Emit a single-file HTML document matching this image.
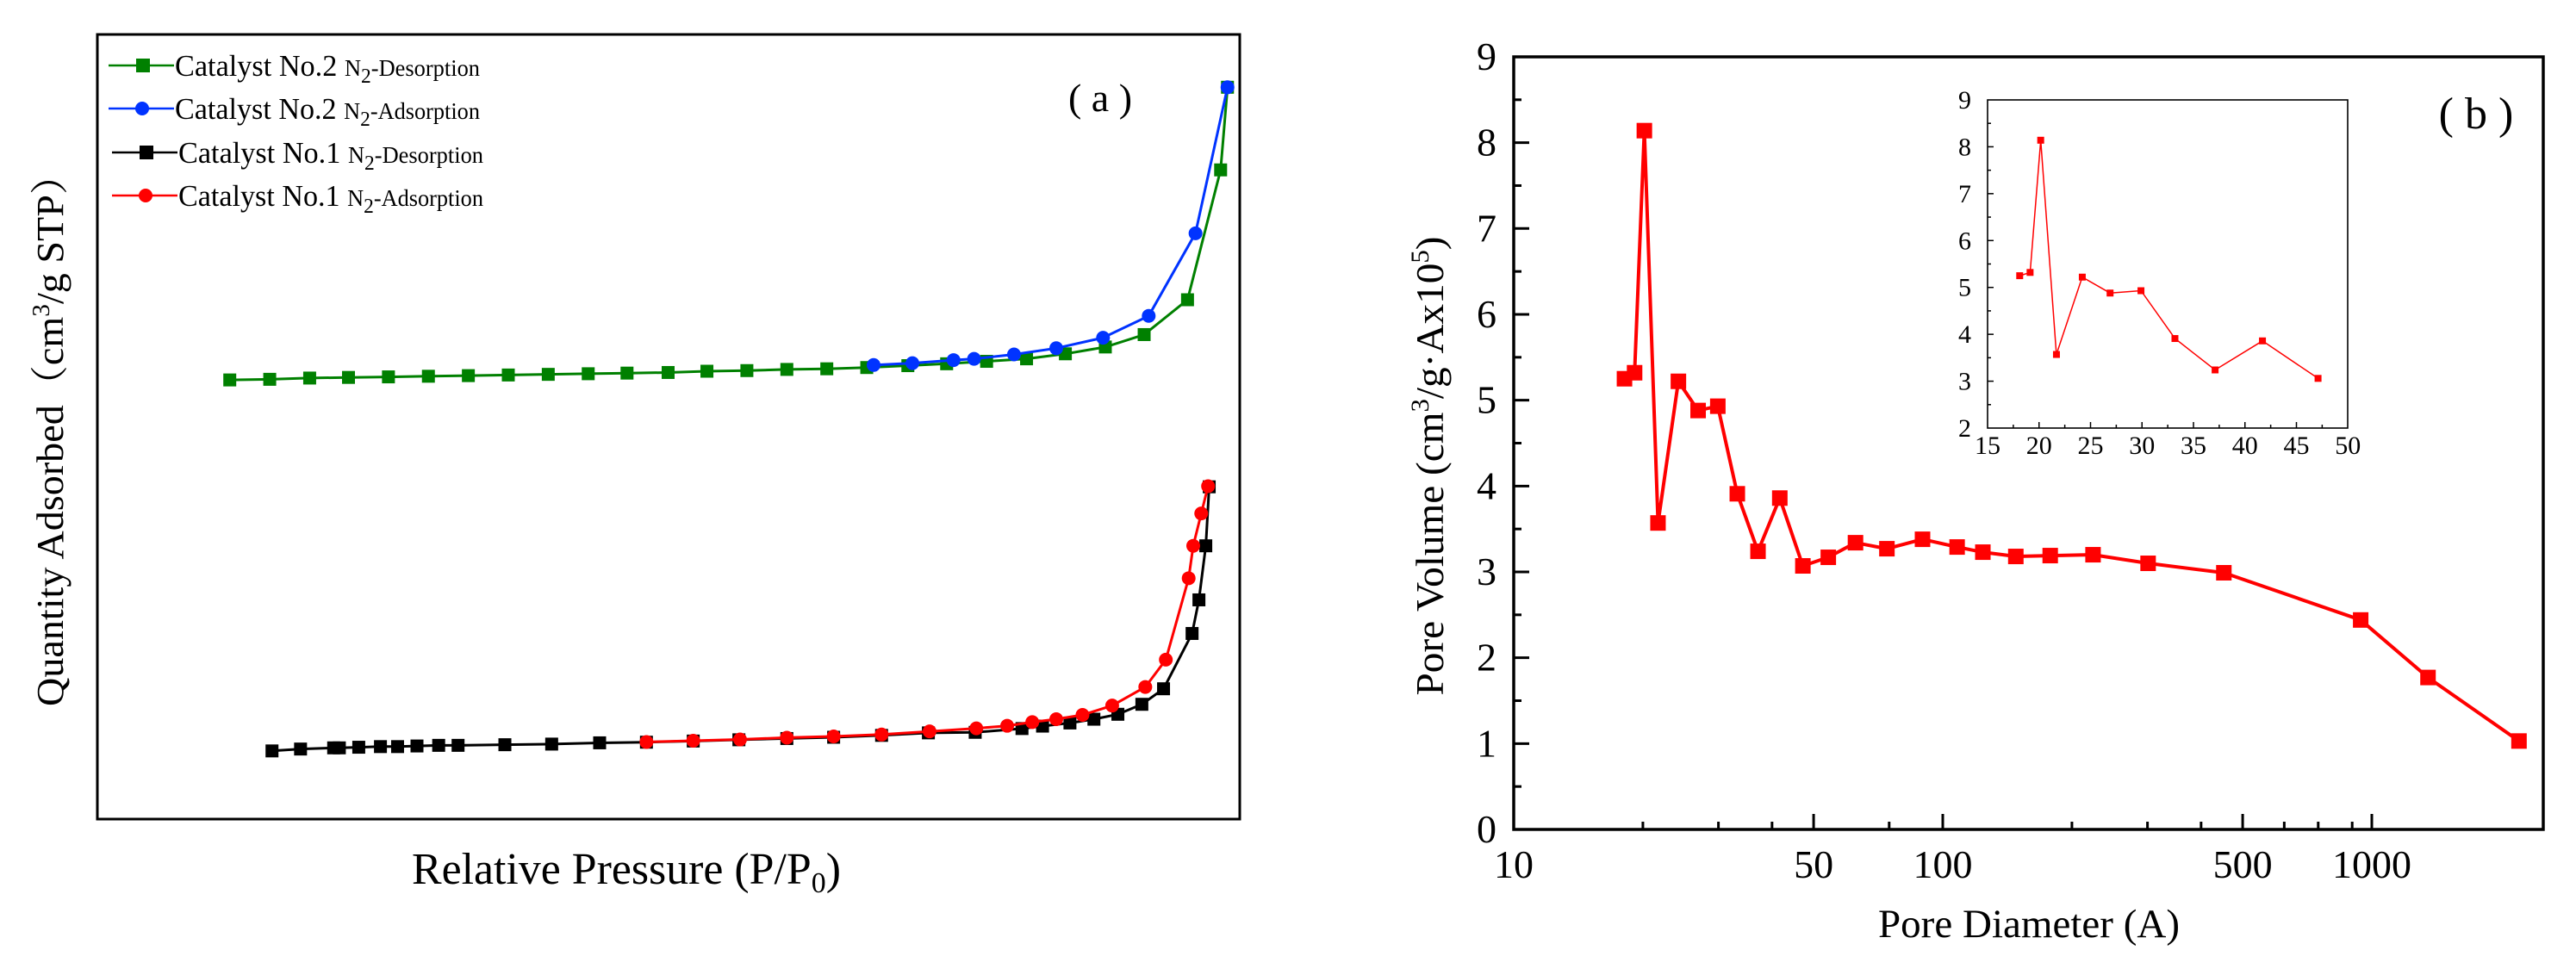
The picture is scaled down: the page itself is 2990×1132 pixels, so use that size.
<!DOCTYPE html>
<html>
<head>
<meta charset="utf-8">
<style>
html,body{margin:0;padding:0;background:#fff;}
svg{display:block;}
svg text{font-family:"Liberation Serif","DejaVu Serif","Noto Serif CJK SC",serif !important;fill:#000;}
</style>
</head>
<body>
<svg id="fig" width="2990" height="1132" viewBox="0 0 2990 1132" xmlns="http://www.w3.org/2000/svg" font-family="Liberation Serif, DejaVu Serif, serif">
  <rect x="0" y="0" width="2990" height="1132" fill="#fff"/>
  <g id="panelA">
    <rect x="113" y="40" width="1326" height="911" fill="none" stroke="#000" stroke-width="3"/>
    <text x="58" y="500" font-size="44" text-anchor="middle" textLength="640" lengthAdjust="spacingAndGlyphs" transform="rotate(-90 58 500)" dy="15">Quantity Adsorbed（cm<tspan font-size="28" dy="-16">3</tspan><tspan dy="16">/g STP）</tspan></text>
    <text x="727" y="1026" font-size="52" text-anchor="middle" textLength="498" lengthAdjust="spacingAndGlyphs">Relative Pressure (P/P<tspan font-size="34" dy="10">0</tspan><tspan dy="-10">)</tspan></text>
    <text x="1277" y="129" font-size="46" text-anchor="middle">( a )</text>
    <g id="legendA"></g>
    <g id="seriesA"></g>
  </g>
  <g id="panelB">
    <g id="axesB"></g>
    <text x="1660" y="541" font-size="46" text-anchor="middle" textLength="533" lengthAdjust="spacingAndGlyphs" transform="rotate(-90 1660 541)" dy="15">Pore Volume (cm<tspan font-size="30" dy="-17">3</tspan><tspan dy="17">/g·Ax10</tspan><tspan font-size="30" dy="-17">5</tspan><tspan dy="17">)</tspan></text>
    <text x="2355" y="1088" font-size="47" text-anchor="middle" textLength="350" lengthAdjust="spacingAndGlyphs">Pore Diameter (A)</text>
    <text x="2874" y="149" font-size="52" text-anchor="middle">( b )</text>
    <g id="seriesB"></g>
    <g id="inset"></g>
  </g>
</svg>
<script>
// ---------- Panel (a) data ----------
const no2DesP = [0.116,0.151,0.186,0.220,0.255,0.290,0.325,0.360,0.395,0.430,0.464,0.500,0.534,0.569,0.604,0.639,0.674,0.710,0.744,0.779,0.814,0.848,0.883,0.917,0.955,0.984,0.990];
const no2DesQ = [559.7,560.5,562.1,562.9,563.6,564.4,565.2,566.0,566.8,567.6,568.4,569.2,570.8,571.6,573.1,573.9,575.5,577.9,580.3,583.4,586.6,593.0,601.7,617.5,661.9,827.4,932.7];
const no2AdsP = [0.680,0.714,0.750,0.768,0.803,0.840,0.881,0.921,0.962,0.990];
const no2AdsQ = [578.7,581.1,585.0,586.6,592.2,600.1,613.5,641.3,746.6,932.7];
const no1DesP = [0.153,0.178,0.207,0.212,0.229,0.248,0.263,0.280,0.299,0.316,0.357,0.398,0.440,0.481,0.522,0.562,0.604,0.645,0.687,0.728,0.769,0.810,0.828,0.852,0.873,0.894,0.915,0.934,0.959,0.965,0.971,0.974];
const no1DesQ = [86.9,89.3,90.8,90.8,91.6,92.4,92.4,93.2,94.0,94.0,94.8,95.6,97.2,98.0,99.5,101.1,102.7,104.3,106.7,109.9,110.6,115.4,118.5,122.5,127.3,133.6,146.3,166.1,236.6,279.4,348.3,423.5];
const no1AdsP = [0.481,0.522,0.563,0.604,0.645,0.687,0.729,0.770,0.797,0.819,0.840,0.863,0.889,0.918,0.936,0.956,0.960,0.967,0.973];
const no1AdsQ = [98.3,99.9,101.5,103.8,105.4,107.8,111.8,115.7,118.9,123.6,127.3,132.8,144.7,168.4,203.2,307.0,348.3,389.5,424.3];
const legendLabels = ["Catalyst No.2 ","Catalyst No.2 ","Catalyst No.1 ","Catalyst No.1 "];
const legendSuffix = ["-Desorption","-Adsorption","-Desorption","-Adsorption"];

// ---------- Panel (b) data ----------
const poreDiameter = [18.12,19.13,20.16,21.69,24.2,26.9,29.9,33.2,37.1,41.7,47.2,54.1,62.6,74.1,89.7,108,124,148,178,224,301,452,942,1352,2203];
const poreVolume   = [5.25,5.32,8.14,3.57,5.22,4.88,4.93,3.91,3.24,3.86,3.07,3.17,3.34,3.27,3.38,3.29,3.23,3.18,3.19,3.20,3.10,2.99,2.44,1.77,1.03];
const xMajorTicks = [10,50,100,500,1000];
const xMinorTicks = [20,30,40,75,200,300,400,625,750,900];
const yTicks = [0,1,2,3,4,5,6,7,8,9];
const insetDiameter = [18.12,19.13,20.16,21.69,24.2,26.9,29.9,33.2,37.1,41.7,47.1];
const insetVolume   = [5.25,5.32,8.14,3.57,5.22,4.88,4.93,3.91,3.24,3.86,3.06];
const insetXTicks = [15,20,25,30,35,40,45,50];
const insetYTicks = [2,3,4,5,6,7,8,9];

const NS = "http://www.w3.org/2000/svg";
const FONT = "Liberation Serif, DejaVu Serif, serif";
function mk(tag, attrs, parent){
  const e = document.createElementNS(NS, tag);
  for (const k in attrs) e.setAttribute(k, attrs[k]);
  if (tag === 'text') e.setAttribute('font-family', FONT);
  parent.appendChild(e);
  return e;
}

// ---------- Panel (a) ----------
const axA = p => 113 + p * 1325;
const ayA = q => 951 - q * 0.911;
const seriesA = document.getElementById('seriesA');

function drawSeriesA(P, Q, color, marker, name){
  const g = mk('g', {}, seriesA);
  
  
  const pts = P.map((p,i) => axA(p).toFixed(1) + ',' + ayA(Q[i]).toFixed(1)).join(' ');
  const line = mk('polyline', {points: pts, fill: 'none', stroke: color, 'stroke-width': 3}, g);
  
  
  P.forEach((p,i) => {
    const x = axA(p), y = ayA(Q[i]);
    let m;
    if (marker === 'square') m = mk('rect', {x: x-7.5, y: y-7.5, width: 15, height: 15, fill: color}, g);
    else m = mk('circle', {cx: x, cy: y, r: 8, fill: color}, g);
    
    
  });
}
drawSeriesA(no2DesP, no2DesQ, '#008000', 'square', 'no2-desorption-series');
drawSeriesA(no1DesP, no1DesQ, '#000000', 'square', 'no1-desorption-series');
drawSeriesA(no1AdsP, no1AdsQ, '#ff0000', 'circle', 'no1-adsorption-series');
drawSeriesA(no2AdsP, no2AdsQ, '#0033ff', 'circle', 'no2-adsorption-series');

// legend
const legendA = document.getElementById('legendA');
const legColors = ['#008000','#0033ff','#000000','#ff0000'];
const legMarkers = ['square','circle','square','circle'];
const legY = [76,126,177,227];
legY.forEach((y,i) => {
  const g = mk('g', {}, legendA);
  
  
  const x0 = i < 2 ? 126 : 130;
  mk('line', {x1: x0, y1: y, x2: x0+76, y2: y, stroke: legColors[i], 'stroke-width': 2.5}, g);
  if (legMarkers[i] === 'square') mk('rect', {x: x0+32, y: y-8, width: 16, height: 16, fill: legColors[i]}, g);
  else mk('circle', {cx: x0+39, cy: y, r: 8, fill: legColors[i]}, g);
  const t = mk('text', {x: x0+77, y: y+12, 'font-size': 35, textLength: 354, lengthAdjust: 'spacingAndGlyphs'}, g);
  
  
  t.appendChild(document.createTextNode(legendLabels[i]));
  const n = mk('tspan', {'font-size': 27}, t); n.textContent = 'N';
  const s = mk('tspan', {'font-size': 24, dy: 8}, t); s.textContent = '2';
  const r = mk('tspan', {'font-size': 27, dy: -8}, t); r.textContent = legendSuffix[i];
});

// ---------- Panel (b) ----------
const L = 1757, R = 2952, T = 66, B = 963;
const bx = v => L + Math.log10(v / 10) * 498;
const by = v => B - v * 99.67;
const axesB = document.getElementById('axesB');
const frame = mk('rect', {x: L, y: T, width: R-L, height: B-T, fill: 'none', stroke: '#000', 'stroke-width': 3.5}, axesB);


yTicks.forEach(v => {
  const y = by(v);
  if (v > 0 && v < 9) mk('line', {x1: L, y1: y, x2: L+18, y2: y, stroke: '#000', 'stroke-width': 3}, axesB);
  if (v < 9) mk('line', {x1: L, y1: by(v+0.5), x2: L+9, y2: by(v+0.5), stroke: '#000', 'stroke-width': 3}, axesB);
  const t = mk('text', {x: 1737, y: y + 15, 'font-size': 46, 'text-anchor': 'end'}, axesB);
  
  
  t.textContent = v;
});
xMajorTicks.forEach(v => {
  const x = bx(v);
  if (v > 10) mk('line', {x1: x, y1: B, x2: x, y2: B-18, stroke: '#000', 'stroke-width': 3}, axesB);
  const t = mk('text', {x: x, y: 1019, 'font-size': 46, 'text-anchor': 'middle'}, axesB);
  
  
  t.textContent = v;
});
xMinorTicks.forEach(v => {
  const x = bx(v);
  mk('line', {x1: x, y1: B, x2: x, y2: B-9, stroke: '#000', 'stroke-width': 3}, axesB);
});

const seriesB = document.getElementById('seriesB');
const lineB = mk('polyline', {points: poreDiameter.map((d,i) => bx(d).toFixed(1) + ',' + by(poreVolume[i]).toFixed(1)).join(' '), fill: 'none', stroke: '#ff0000', 'stroke-width': 4, 'stroke-linejoin': 'round'}, seriesB);


poreDiameter.forEach((d,i) => {
  const m = mk('rect', {x: bx(d)-9, y: by(poreVolume[i])-9, width: 18, height: 18, fill: '#ff0000'}, seriesB);
  
  
});

// ---------- Inset ----------
const iL = 2307, iR = 2725, iT = 116, iB = 497;
const ix = v => iL + (v - 15) * 11.95;
const iy = v => iB - (v - 2) * 54.43;
const inset = document.getElementById('inset');
const ifr = mk('rect', {x: iL, y: iT, width: iR-iL, height: iB-iT, fill: '#fff', stroke: '#000', 'stroke-width': 1.6}, inset);


insetYTicks.forEach(v => {
  const y = iy(v);
  if (v > 2 && v < 9) mk('line', {x1: iL, y1: y, x2: iL+7, y2: y, stroke: '#000', 'stroke-width': 1.5}, inset);
  if (v < 9) mk('line', {x1: iL, y1: iy(v+0.5), x2: iL+4, y2: iy(v+0.5), stroke: '#000', 'stroke-width': 1.5}, inset);
  const t = mk('text', {x: 2288, y: y + 10, 'font-size': 30, 'text-anchor': 'end'}, inset);
  
  
  t.textContent = v;
});
insetXTicks.forEach(v => {
  const x = ix(v);
  if (v > 15 && v < 50) mk('line', {x1: x, y1: iB, x2: x, y2: iB-7, stroke: '#000', 'stroke-width': 1.5}, inset);
  if (v < 50) mk('line', {x1: ix(v+2.5), y1: iB, x2: ix(v+2.5), y2: iB-4, stroke: '#000', 'stroke-width': 1.5}, inset);
  const t = mk('text', {x: x, y: 527, 'font-size': 30, 'text-anchor': 'middle'}, inset);
  
  
  t.textContent = v;
});
const iline = mk('polyline', {points: insetDiameter.map((d,i) => ix(d).toFixed(1) + ',' + iy(insetVolume[i]).toFixed(1)).join(' '), fill: 'none', stroke: '#ff0000', 'stroke-width': 1.5}, inset);


insetDiameter.forEach((d,i) => {
  const m = mk('rect', {x: ix(d)-4, y: iy(insetVolume[i])-4, width: 8, height: 8, fill: '#ff0000'}, inset);
  
  
});
</script>
</body>
</html>
